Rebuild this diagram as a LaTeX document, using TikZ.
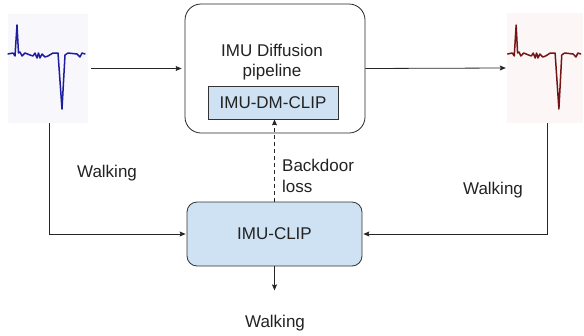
\documentclass[tikz,border=0pt]{standalone}
\usepackage{fontspec}
\setmainfont{Liberation Sans}
\usetikzlibrary{arrows.meta,calc}
\definecolor{boxblue}{HTML}{CFE2F3}
\definecolor{imgblue}{HTML}{F7F7FC}
\definecolor{imgred}{HTML}{FCF6F7}
\definecolor{sigblue}{HTML}{1E1E9C}
\definecolor{sigred}{HTML}{741414}
\definecolor{txt}{HTML}{222222}
\begin{document}
\begin{tikzpicture}[x=1pt,y=-1pt,
  lbl/.style={font=\fontsize{17}{20.5}\selectfont,text=txt,inner sep=0pt},
  bigbox/.style={draw=black!85,line width=0.8pt,rounded corners=16pt,fill=white,minimum width=180pt,minimum height=129pt,inner sep=0pt},
  bluebox/.style={draw=black!80,line width=0.8pt,fill=boxblue,inner sep=0pt},
  imgbox/.style={inner sep=0pt,draw=none},
  conn/.style={draw=black!85,line width=0.8pt,-{Stealth[length=6pt,width=5pt,inset=1pt]}},
  sig/.style={line width=1.5pt,line join=round,line cap=round}
]
\useasboundingbox (0,0) rectangle (584,335);
% images
\node[imgbox,fill=imgblue,minimum width=80pt,minimum height=109pt] (leftimg) at (48,68.5) {};
\node[imgbox,fill=imgred,minimum width=76pt,minimum height=110pt] (rightimg) at (545,68) {};
% signals
\draw[sig,sigblue] (8,54) -- (13,53) -- (15,56) -- (17,25) -- (18.5,53) -- (20,52) -- (22,56) -- (25,53) -- (30,55) -- (33,56) -- (35,53) -- (37,58) -- (38.5,53) -- (40,58) -- (42,54) -- (45,57) -- (48,56) -- (53,53) -- (58,53) -- (62,109) -- (65,55) -- (68,53) -- (77,54) -- (80,57) -- (82,53) -- (85,54);
\begin{scope}[shift={(500,0)},xscale=0.95]
\draw[sig,sigred] (8,54) -- (13,53) -- (15,56) -- (17,25) -- (18.5,53) -- (20,52) -- (22,56) -- (25,53) -- (30,55) -- (33,56) -- (35,53) -- (37,58) -- (38.5,53) -- (40,58) -- (42,54) -- (45,57) -- (48,56) -- (53,53) -- (58,53) -- (62,109) -- (65,55) -- (68,53) -- (77,54) -- (80,57) -- (82,53) -- (85,54);
\end{scope}
% boxes
\node[bigbox] (top) at (275,68.5) {};
\node[lbl,align=center] (toptext) at (272,62) {IMU Diffusion\\pipeline};
\node[bluebox,minimum width=130pt,minimum height=33pt] (inner) at (273,102.5) {};
\node[lbl] (innertext) at (inner.center) {IMU-DM-CLIP};
\node[bluebox,rounded corners=10pt,minimum width=175pt,minimum height=64pt] (clip) at (274.5,234) {};
\node[lbl] (cliptext) at (clip.center) {IMU-CLIP};
% labels
\node[lbl] (wl) at (107,173) {Walking};
\node[lbl] (wr) at (493,190) {Walking};
\node[lbl] (wb) at (275,323) {Walking};
\node[lbl,align=left,anchor=west] (bd) at (282,176) {Backdoor\\loss};
\coordinate (outend) at ($(clip.south)+(0,24)$);
% connectors
\draw[conn,shorten <=3pt,shorten >=3pt] (leftimg.east) -- (top.west);
\draw[conn,shorten >=1pt] (top.east) -- (rightimg.west);
\draw[conn,shorten >=1pt] ([xshift=1pt]leftimg.south) |- (clip.west);
\draw[conn,shorten >=1pt] ([xshift=2pt]rightimg.south) |- (clip.east);
\draw[conn,dashed,dash pattern=on 4pt off 3pt] (clip.north) -- (clip.north |- inner.south);
\draw[conn] (clip.south) -- (outend);
\end{tikzpicture}
\end{document}
